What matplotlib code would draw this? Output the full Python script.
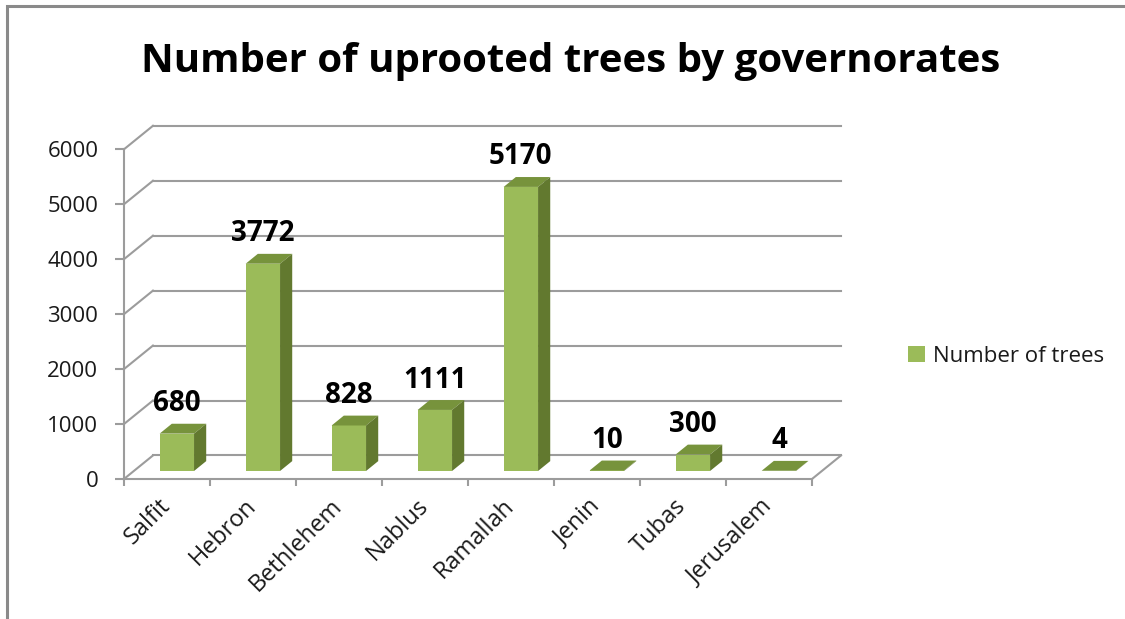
import numpy as np
import matplotlib.pyplot as plt
from matplotlib.patches import Polygon, Rectangle

governorates = ['Salfit', 'Hebron', 'Bethlehem', 'Nablus', 'Ramallah', 'Jenin', 'Tubas', 'Jerusalem']
trees = [680, 3772, 828, 1111, 5170, 10, 300, 4]
y_ticks = [0, 1000, 2000, 3000, 4000, 5000, 6000]
title = 'Number of uprooted trees by governorates'
series_name = 'Number of trees'

plt.rcParams['font.family'] = ['Open Sans', 'DejaVu Sans']

front_col = '#9bbb59'
top_col = '#77933c'
side_col = '#62792f'
grid_col = '#9c9c9c'
text_col = '#1a1a1a'

############################################################
# fake 3d: depth of the box in data units, bar sits between t0 and t1
dx, dy = 0.337, 428
t0, t1 = 0.34, 0.76
bw = 0.4
n = len(governorates)

fig = plt.figure(figsize=(11.25, 6.19), dpi=100)
ax = fig.add_axes([0.1102, 0.2262, 0.6116, 0.5326])
ax.set_xlim(0, n)
ax.set_ylim(0, y_ticks[-1])
ax.set_facecolor('none')

# back wall gridlines and left wall diagonals
for g in y_ticks:
    ax.plot([dx, n + dx], [g + dy, g + dy], color=grid_col, lw=1.5, clip_on=False, zorder=1)
    ax.plot([0, dx], [g, g + dy], color=grid_col, lw=1.5, clip_on=False, zorder=1)
ax.plot([n, n + dx], [0, dy], color=grid_col, lw=1.5, clip_on=False, zorder=1)

############################################################
# bars
xc = np.arange(n) + 0.5 + t0 * dx
ax.bar(xc, trees, width=bw, bottom=t0 * dy, color=front_col, zorder=3,
       label=series_name, clip_on=False)
ddx, ddy = (t1 - t0) * dx, (t1 - t0) * dy
for x, v in zip(xc, trees):
    l, r = x - bw / 2, x + bw / 2
    b = t0 * dy
    t = b + v
    ax.add_patch(Polygon([(l, t), (r, t), (r + ddx, t + ddy), (l + ddx, t + ddy)],
                         closed=True, fc=top_col, ec='none', zorder=3, clip_on=False))
    ax.add_patch(Polygon([(r, b), (r, t), (r + ddx, t + ddy), (r + ddx, b + ddy)],
                         closed=True, fc=side_col, ec='none', zorder=3, clip_on=False))
    ax.annotate(str(v), (x, v + t1 * dy), xytext=(0, 4), textcoords='offset points',
                ha='center', va='bottom', fontsize=20, fontweight='bold',
                color='black', zorder=5, annotation_clip=False)

############################################################
# axes
for s in ['top', 'right']:
    ax.spines[s].set_visible(False)
for s in ['left', 'bottom']:
    ax.spines[s].set_color(grid_col)
    ax.spines[s].set_linewidth(1.5)

ax.set_yticks(y_ticks)
ax.tick_params(axis='y', length=6.5, width=1.5, color=grid_col, pad=12,
               labelsize=16, labelcolor=text_col)
ax.set_xticks(np.arange(n + 1))
ax.set_xticklabels([])
ax.set_xticks(np.arange(n) + 0.5, minor=True)
ax.set_xticklabels(governorates, minor=True)
ax.tick_params(axis='x', which='major', length=5, width=1.5, color=grid_col)
ax.tick_params(axis='x', which='minor', length=0, pad=17, labelsize=17, labelcolor=text_col)
plt.setp(ax.get_xticklabels(minor=True), rotation=45, ha='right', va='center',
         rotation_mode='anchor')

fig.legend(handles=[Rectangle((0, 0), 1, 1, fc=front_col)], labels=[series_name],
           loc='center left', bbox_to_anchor=(0.807, 1 - 356 / 619), frameon=False,
           fontsize=16, handlelength=0.75, handleheight=0.75, handletextpad=0.4,
           borderpad=0, borderaxespad=0, labelcolor=text_col)

fig.text(571 / 1125, 1 - 72 / 619, title, ha='center', va='baseline',
         fontsize=29, fontweight='bold', color='black')

# chart frame (runs off right and bottom edge)
fig.add_artist(Rectangle((7 / 1125, -0.1), 2, 1.1 - 6 / 619, transform=fig.transFigure,
                         fill=False, ec='#8a8a8a', lw=2.2))

fig.savefig('out.png', dpi=100)
